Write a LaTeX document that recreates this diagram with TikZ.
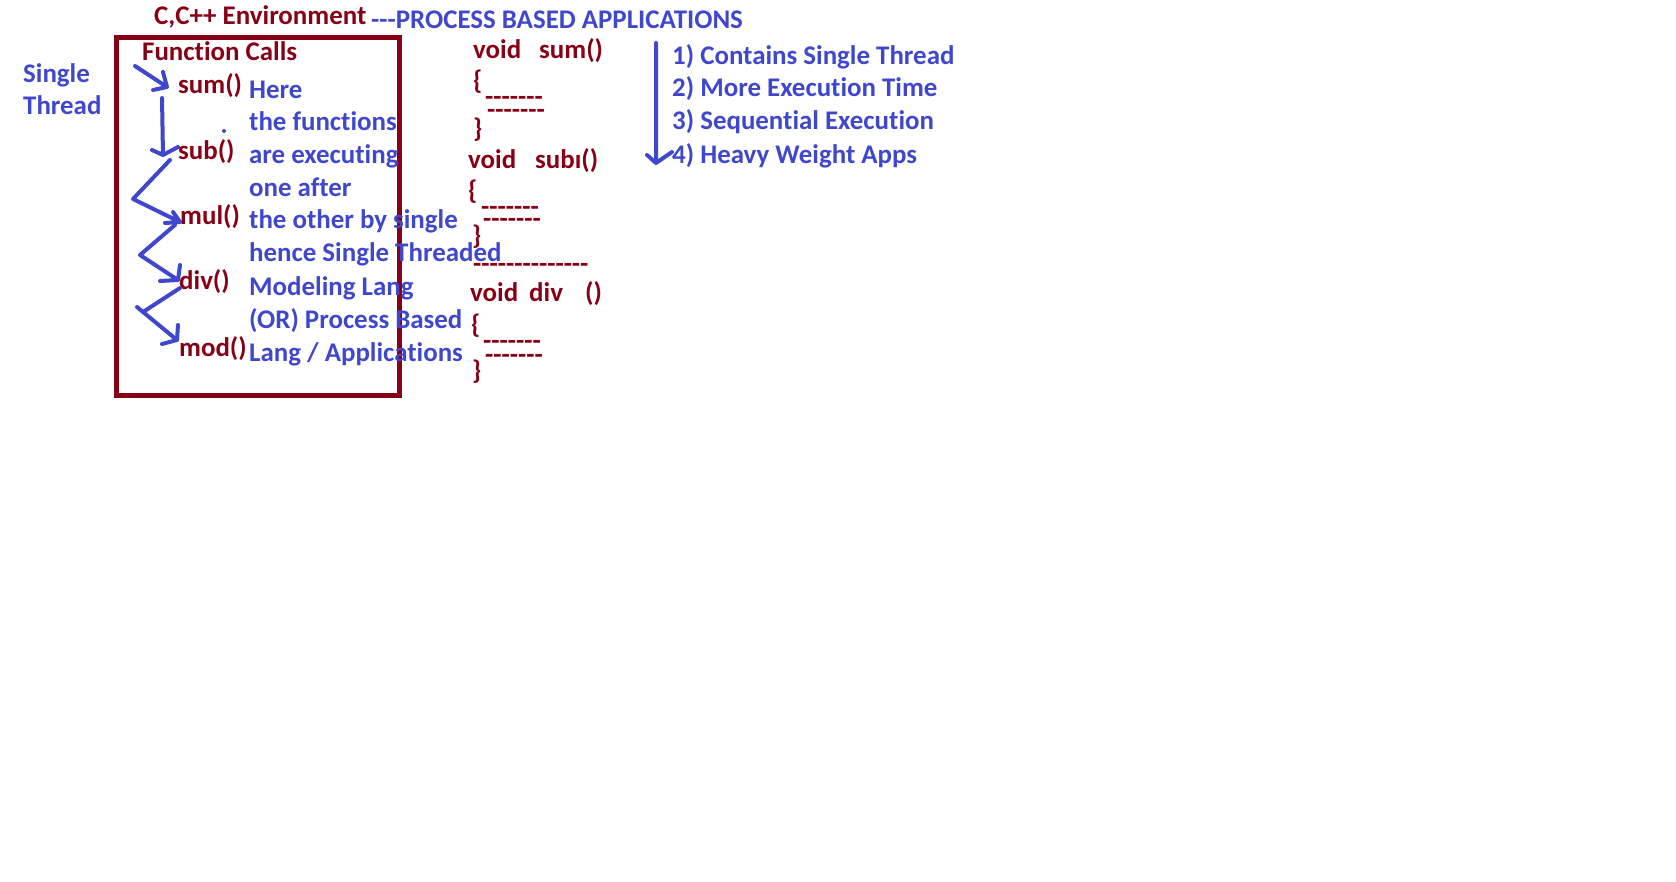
\documentclass[tikz,border=0pt]{standalone}
\usepackage{fontspec}
\setmainfont{Carlito}[Ligatures={TeXOff,NoCommon}]
\definecolor{dred}{RGB}{136,0,21}
\definecolor{ink}{RGB}{63,72,204}

\begin{document}
\begin{tikzpicture}[x=1pt,y=-1pt,
  txt/.style={anchor=base west,inner sep=0pt,yshift=-2pt,font=\fontsize{26.9}{32}\selectfont\bfseries},
  redtxt/.style={txt,text=dred},
  bluetxt/.style={txt,text=ink},
  pen/.style={draw=ink,line width=4pt,line cap=round,line join=round},
  frame/.style={draw=dred,line width=5pt}]

\useasboundingbox (0,0) rectangle (1676,882);
\fill[white] (0,0) rectangle (1676,882);

% headings
\node[redtxt]  (env)   at (154,23) {C,C++ Environment};
\node[bluetxt] (pba)   at (371,27) {---PROCESS BASED APPLICATIONS};
\node[bluetxt] (st1)   at (23,81)  {Single};
\node[bluetxt] (st2)   at (23,113) {Thread};

% function call box
\draw[frame] (116.5,37.5) rectangle (399.5,395.5);
\node[redtxt] (fc) at (142,59) {Function Calls};
\node[redtxt] (fsum) at (178,92)  {sum()};
\node[redtxt] (fsub) at (178,158) {sub()};
\node[redtxt] (fmul) at (180,223) {mul()};
\node[redtxt] (fdiv) at (179,288) {div()};
\node[redtxt] (fmod) at (179,355) {mod()};
\fill[ink] (224,131) circle (2pt);

% explanation
\node[bluetxt] (e1) at (249,97)  {Here};
\node[bluetxt] (e2) at (249,129) {the functions};
\node[bluetxt] (e3) at (249,162) {are executing};
\node[bluetxt] (e4) at (249,195) {one after};
\node[bluetxt] (e5) at (249,227) {the other by single};
\node[bluetxt] (e6) at (249,260) {hence Single Threaded};
\node[bluetxt] (e7) at (249,294) {Modeling Lang};
\node[bluetxt] (e8) at (249,327) {(OR) Process Based};
\node[bluetxt] (e9) at (249,360) {Lang / Applications};

% hand-drawn call flow
\coordinate (a0) at (135,66);  \coordinate (a1) at (167,87);
\draw[pen] (a0) -- (a1) (163,72) -- (a1) -- (153,90);
\coordinate (b0) at (162,98);  \coordinate (b1) at (163,155);
\draw[pen] (b0) -- (b1) (152,150) -- (b1) -- (178,147);
\coordinate (c0) at (170,160); \coordinate (c1) at (133,199); \coordinate (c2) at (180,222);
\draw[pen] (c0) -- (c1) -- (c2) (173,212) -- (c2) -- (165,223);
\coordinate (d0) at (175,225); \coordinate (d1) at (140,255); \coordinate (d2) at (178,280);
\draw[pen] (d0) -- (d1) -- (d2) (180,265) -- (d2) -- (160,281);
\coordinate (m0) at (180,288); \coordinate (m1) at (143,312); \coordinate (m2) at (177,340);
\draw[pen] (m0) -- (m1) -- (m2) (178,325) -- (m2) -- (162,344) (137,307) -- (m1);

% code listing
\node[redtxt] (v1) at (473,57) {void};
\node[redtxt] (n1) at (539,57) {sum()};
\node[redtxt] (o1) at (473,88) {\{};
\node[redtxt] (l1a) at (485,104) {-------};
\node[redtxt] (l1b) at (487,117) {-------};
\node[redtxt] (c1) at (473,136) {\}};

\node[redtxt] (v2) at (468,167) {void};
\node[redtxt] (n2) at (535,167) {subı()};
\node[redtxt] (o2) at (468,198) {\{};
\node[redtxt] (l2a) at (481,214) {-------};
\node[redtxt] (l2b) at (483,226) {-------};
\node[redtxt] (c2) at (472,243) {\}};
\node[redtxt] (sep) at (473,270.5) {--------------};

\node[redtxt] (v3) at (470,299.5) {void};
\node[redtxt] (n3) at (529,299.5) {div};
\node[redtxt] (p3) at (585,299.5) {()};
\node[redtxt] (o3) at (471,332) {\{};
\node[redtxt] (l3a) at (483,347.5) {-------};
\node[redtxt] (l3b) at (485,362) {-------};
\node[redtxt] (c3) at (472,378) {\}};

% properties list
\coordinate (r0) at (656,43); \coordinate (r1) at (656,163);
\draw[pen] (r0) -- (r1) (647,155) -- (r1) -- (672,152);
\node[bluetxt] (p1) at (672,63)  {1) Contains Single Thread};
\node[bluetxt] (p2) at (672,95)  {2) More Execution Time};
\node[bluetxt] (p3b) at (672,128) {3) Sequential Execution};
\node[bluetxt] (p4) at (672,162) {4) Heavy Weight Apps};
\end{tikzpicture}
\end{document}
